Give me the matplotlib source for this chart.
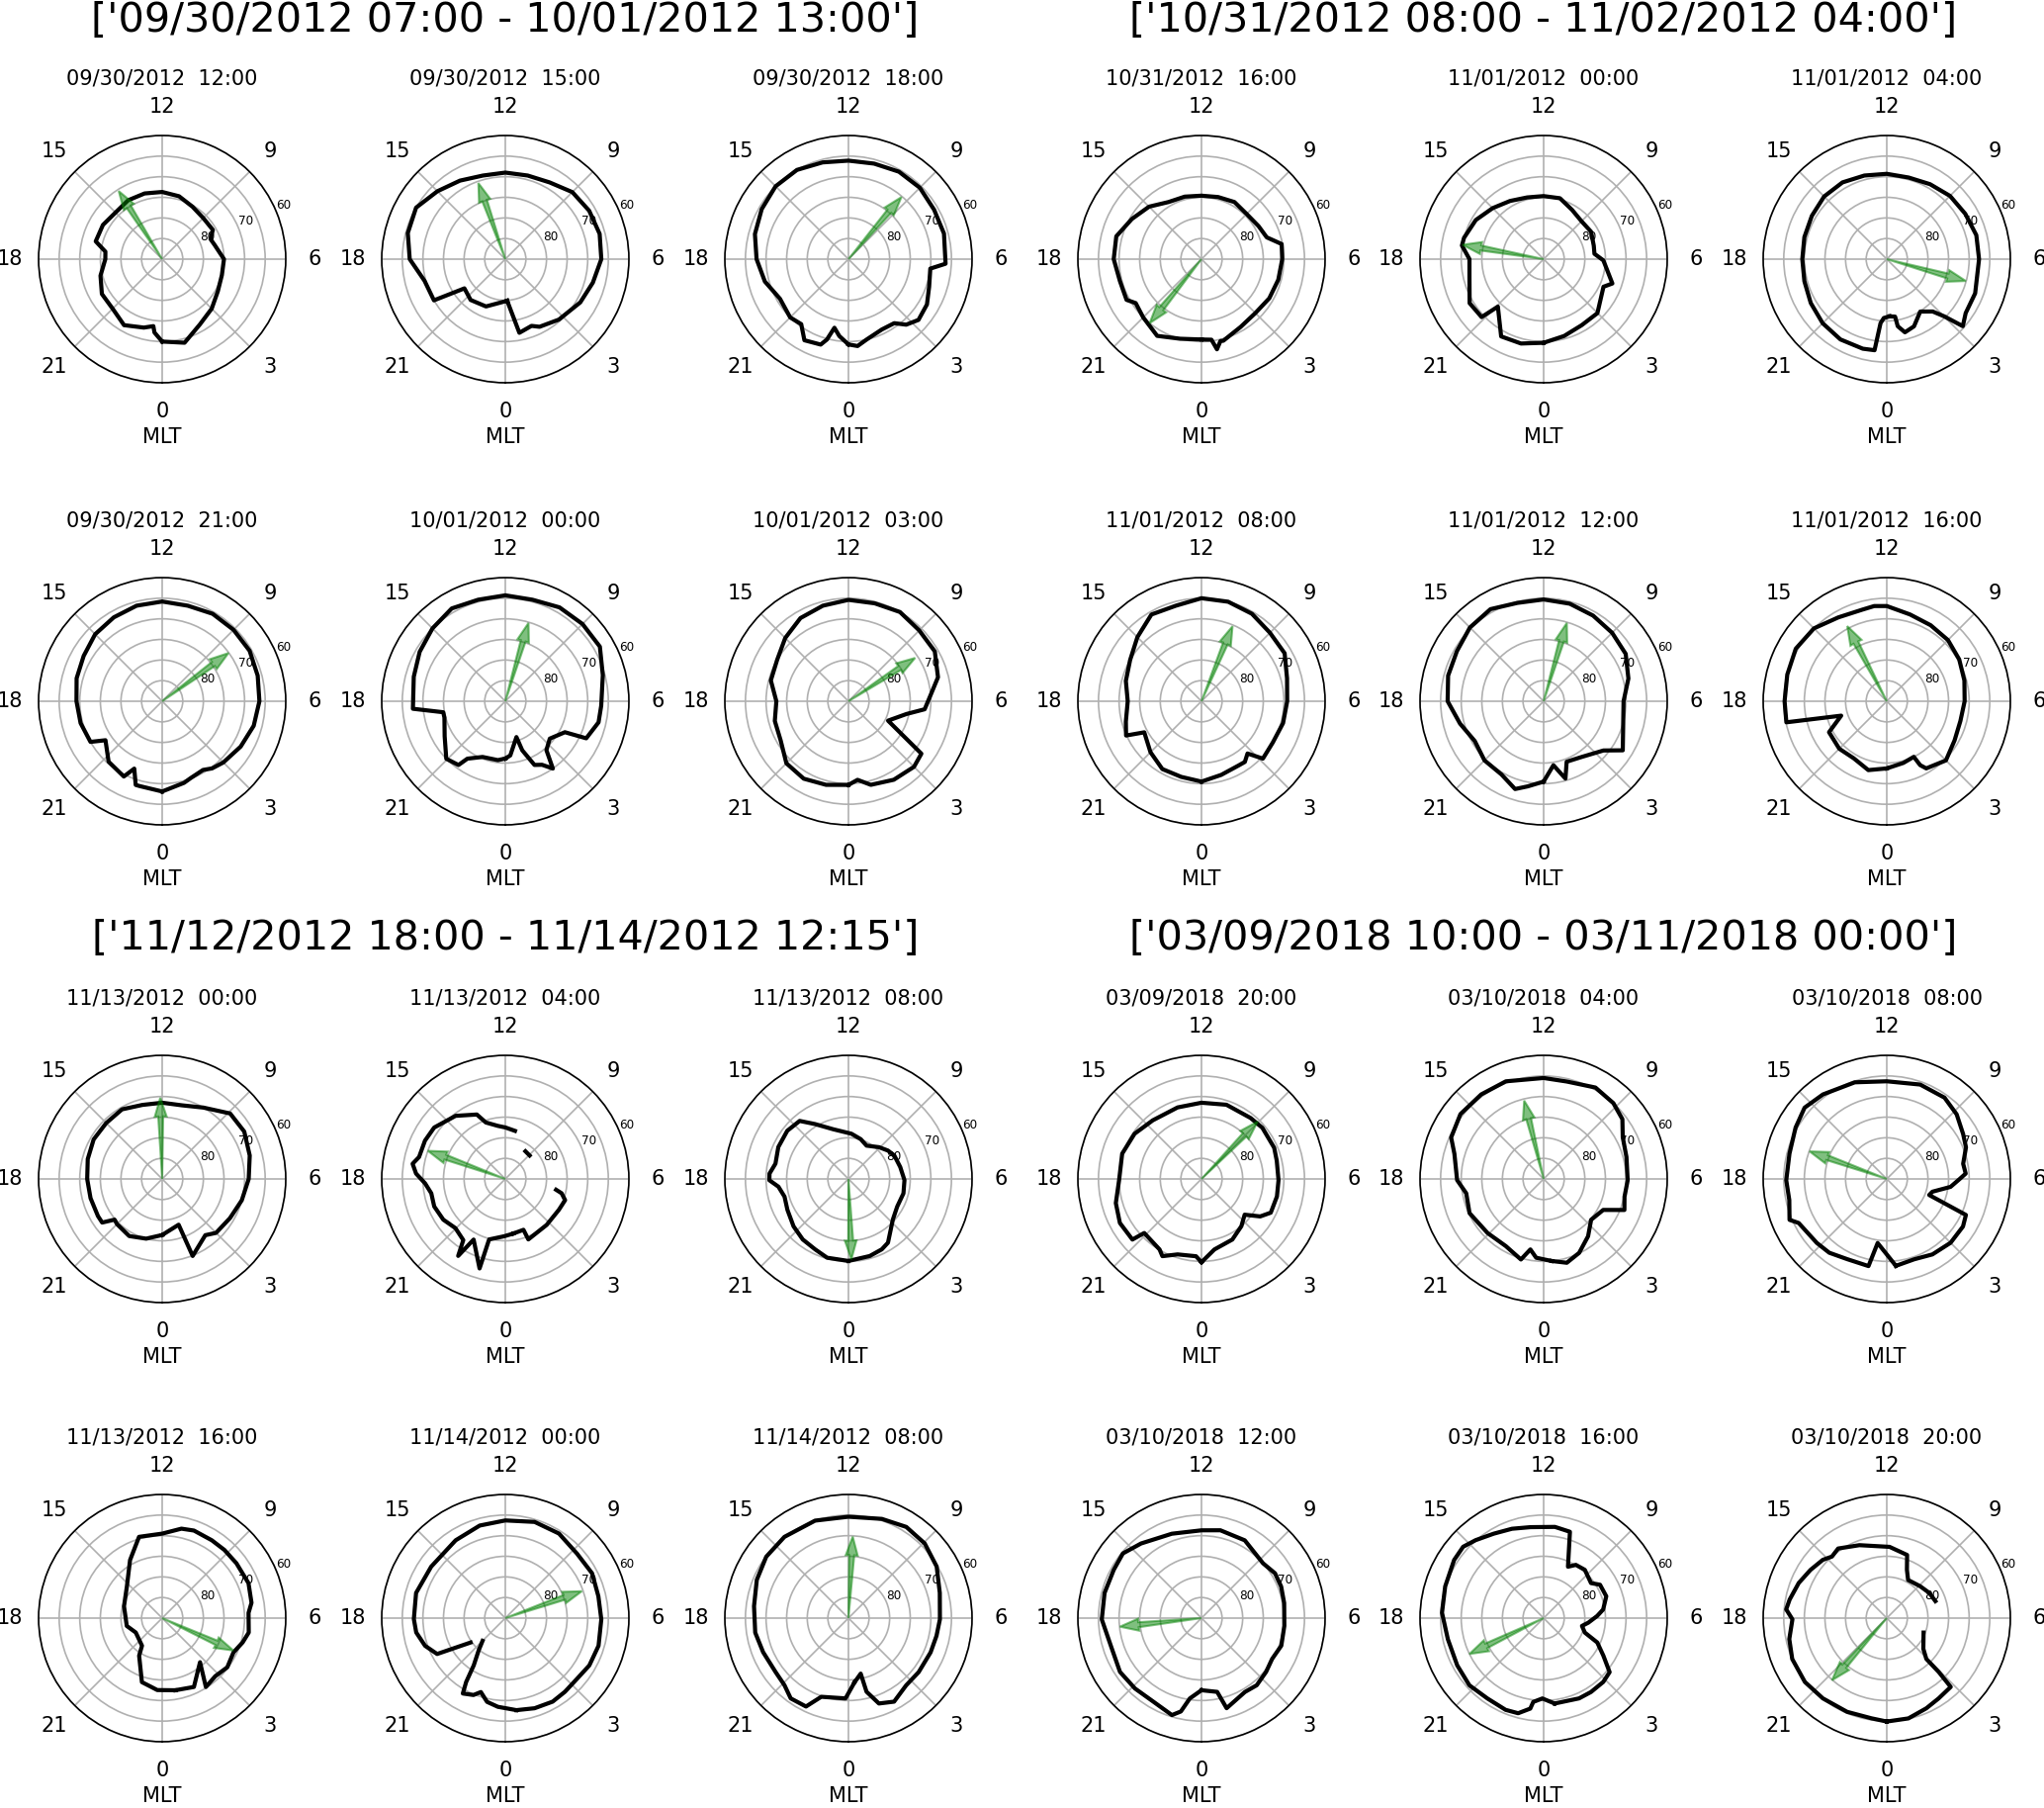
import numpy as np
import matplotlib
matplotlib.use("Agg")
import matplotlib.pyplot as plt

# ---------------- data (MLT hours, colatitude = 90 - latitude, degrees) ----------------
GROUP_TITLES = ["['09/30/2012 07:00 - 10/01/2012 13:00']",
                "['10/31/2012 08:00 - 11/02/2012 04:00']",
                "['11/12/2012 18:00 - 11/14/2012 12:15']",
                "['03/09/2018 10:00 - 03/11/2018 00:00']"]

TITLES = ["09/30/2012  12:00", "09/30/2012  15:00", "09/30/2012  18:00",
          "10/31/2012  16:00", "11/01/2012  00:00", "11/01/2012  04:00",
          "09/30/2012  21:00", "10/01/2012  00:00", "10/01/2012  03:00",
          "11/01/2012  08:00", "11/01/2012  12:00", "11/01/2012  16:00",
          "11/13/2012  00:00", "11/13/2012  04:00", "11/13/2012  08:00",
          "03/09/2018  20:00", "03/10/2018  04:00", "03/10/2018  08:00",
          "11/13/2012  16:00", "11/14/2012  00:00", "11/14/2012  08:00",
          "03/10/2018  12:00", "03/10/2018  16:00", "03/10/2018  20:00"]

MLT_TICKS = [0, 3, 6, 9, 12, 15, 18, 21]
R_TICKS = [5, 10, 15, 20, 25, 30]
R_TICK_LABELS = ["", "80", "", "70", "", "60"]

ARROW_MLT = [14.17, 13.3, 9.3, 21.4, 17.33, 4.97, 8.4, 10.9, 8.2, 10.5, 10.9, 13.85,
             12.09, 16.67, 0.14, 9.04, 12.93, 16.69, 4.37, 7.29, 11.8, 18.4, 19.72, 21.24]
ARROW_LEN = [19.6, 19.6, 19.8, 20.0, 20.0, 19.9, 19.9, 19.8, 19.3, 19.7, 19.8, 20.6,
             19.7, 20.0, 19.5, 19.5, 19.6, 19.9, 19.0, 19.7, 19.8, 19.9, 20.0, 20.1]

P01_MLT = [0, 1, 2, 3, 4, 5, 6, 7, 7.5, 8, 9, 10, 11, 12, 13, 14, 15, 16, 17, 17.5, 18, 19, 20, 21, 22, 23, 23.5, 23.6]
P01_COLAT = [20.0, 21.0, 18.3, 17.0, 15.6, 15.0, 15.0, 13.2, 12.7, 14.2, 14.1, 14.7, 15.8, 16.3, 16.5, 16.5, 16.0, 16.6, 16.7, 13.9, 13.8, 15.5, 16.9, 17.0, 18.5, 17.2, 16.4, 17.9]

P02_MLT = [0.17, 0.72, 1.43, 1.79, 2.77, 4, 5, 6, 7, 8, 9, 10, 11, 12, 13, 14, 15, 16, 17, 18, 19, 20, 20.37, 21.31, 22.52, 23.9]
P02_COLAT = [10.1, 18.2, 17.4, 18.4, 19.6, 21.0, 22.0, 23.3, 23.7, 23.5, 23.0, 21.5, 21.0, 21.0, 21.0, 22.0, 23.3, 25.0, 24.5, 23.2, 20.3, 20.0, 12.2, 13.0, 12.4, 10.3]

P03_MLT = [0, 0.4, 0.85, 1.69, 2.37, 2.76, 3.27, 4, 4.74, 5.56, 5.82, 7, 8, 9, 10, 11, 12, 13, 14, 15, 16, 17, 18, 19, 20, 21, 21.6, 22.1, 22.8, 23.0, 23.23, 23.55]
P03_COLAT = [20.7, 21.2, 20.0, 18.9, 19.1, 21.2, 22.5, 22.0, 20.7, 20.0, 23.6, 24.0, 24.0, 24.5, 24.5, 24.0, 23.9, 24.3, 25.0, 25.0, 24.3, 23.5, 22.3, 21.0, 19.2, 20.0, 19.5, 22.4, 21.8, 20.2, 17.0, 18.8]

P04_MLT = [0, 0.47, 0.65, 0.87, 1, 2, 3, 4, 5, 6, 6.71, 7.23, 8, 9, 10, 11, 12, 13, 14, 15, 16, 17, 18, 19, 19.9, 20.25, 21, 22, 23]
P04_COLAT = [19.5, 19.7, 22.2, 20.4, 20.5, 19.0, 18.5, 19.0, 19.3, 19.6, 19.8, 16.7, 16.0, 15.5, 16.0, 15.6, 15.4, 15.7, 16.0, 18.0, 19.5, 21.4, 21.3, 20.5, 20.7, 19.2, 20.0, 21.5, 20.0]

P05_MLT = [0, 1, 2, 2.99, 4.35, 4.7, 5.92, 6.4, 7, 8, 9, 10, 11, 12, 13, 14, 15, 16, 17, 17.37, 18, 18.89, 20.05, 20.87, 21.07, 22.08, 23]
P05_COLAT = [20.3, 19.3, 18.5, 18.5, 16.0, 17.7, 14.5, 12.4, 12.6, 13.3, 13.0, 13.8, 15.3, 15.3, 15.5, 16.3, 17.5, 19.0, 20.0, 20.1, 18.0, 18.5, 20.9, 20.6, 16.0, 21.4, 21.2]

P06_MLT = [0.19, 0.55, 0.62, 0.93, 1.47, 2.17, 2.75, 3.01, 3.24, 3.71, 4.59, 5, 6, 7, 8, 9, 10, 11, 12, 13, 14, 15, 16, 17, 18, 19, 20, 21, 22, 23, 23.49, 23.63, 23.81]
P06_COLAT = [13.9, 14.1, 16.5, 18.3, 17.6, 15.1, 16.9, 19.7, 24.6, 23.2, 23.0, 22.5, 22.4, 22.5, 22.0, 21.7, 21.0, 20.5, 20.7, 21.0, 21.5, 21.5, 21.0, 20.7, 20.5, 20.7, 21.3, 22.0, 22.5, 22.5, 22.3, 15.6, 14.3]

P07_MLT = [0, 1, 1.35, 2.05, 2.44, 3, 4, 5, 6, 7, 8, 9, 10, 11, 12, 13, 14, 15, 16, 17, 18, 19, 19.97, 20.3, 21.23, 22.2, 22.5, 22.83, 23]
P07_COLAT = [21.9, 20.5, 19.9, 19.4, 20.3, 21.0, 22.0, 23.0, 23.6, 24.0, 24.5, 24.5, 24.5, 24.0, 24.2, 24.0, 23.5, 23.0, 22.0, 21.5, 20.8, 20.5, 20.0, 16.7, 19.6, 20.5, 17.7, 21.3, 21.3]

P08_MLT = [0, 0.35, 1.15, 1.27, 1.64, 2.0, 2.35, 2.67, 3.33, 4.17, 4.36, 5.15, 5.82, 7, 8, 9, 10, 11, 12, 13, 14, 15, 16, 17, 18.31, 18.67, 19, 20, 20.95, 21.58, 21.77, 22.52, 23.52]
P08_COLAT = [13.9, 13.2, 9.1, 12.6, 17.0, 17.8, 20.0, 15.5, 14.1, 16.3, 21.6, 23.2, 23.3, 24.5, 26.5, 26.5, 26.3, 25.5, 25.7, 25.5, 26.0, 25.0, 24.0, 23.0, 22.5, 15.3, 15.3, 17.0, 20.0, 19.2, 16.7, 14.6, 14.4]

P09_MLT = [0, 0.44, 1, 2, 3, 3.62, 4.26, 5.17, 5.6, 6.25, 7, 8, 9, 10, 11, 12, 13, 14, 15, 16, 17, 18, 19, 20, 21, 22, 23]
P09_COLAT = [20.3, 19.2, 21.0, 22.0, 22.5, 21.8, 10.7, 14.4, 18.6, 19.9, 22.5, 24.2, 24.3, 25.0, 24.6, 24.6, 24.0, 23.3, 21.7, 20.0, 19.5, 17.5, 18.5, 19.0, 21.3, 21.7, 21.0]

P10_MLT = [0, 1, 2, 2.37, 2.76, 3.13, 4, 5, 6, 7, 8, 9, 10, 11, 12, 13, 14, 15, 16, 17, 18, 19, 19.63, 19.9, 21, 22, 23]
P10_COLAT = [19.5, 18.5, 18.0, 18.1, 16.9, 20.4, 20.0, 20.5, 20.8, 21.5, 23.3, 23.5, 24.5, 25.0, 25.0, 24.0, 24.3, 22.0, 20.0, 19.0, 17.9, 19.0, 20.1, 15.8, 17.5, 19.0, 19.0]

P11_MLT = [0, 0.58, 1.05, 1.39, 2.31, 3.37, 3.88, 5, 6, 7, 8, 9, 10, 11, 12, 13, 14, 15, 16, 17, 18, 19, 20, 21, 22, 22.8, 23.3]
P11_COLAT = [19.5, 15.7, 19.5, 15.7, 16.4, 18.8, 22.6, 20.0, 19.4, 21.3, 23.0, 23.5, 24.0, 24.5, 24.7, 24.7, 25.8, 25.3, 24.3, 24.0, 23.3, 21.0, 19.3, 20.3, 20.5, 22.4, 21.0]

P12_MLT = [0, 1, 1.73, 1.84, 2.03, 3, 4, 5, 6, 7, 8, 9, 10, 11, 12, 12.5, 13, 14, 15, 16, 17, 18, 18.79, 19.17, 19.88, 21, 22, 23]
P12_COLAT = [16.3, 15.5, 15.0, 17.5, 18.9, 20.3, 19.0, 18.5, 18.9, 19.5, 20.3, 21.0, 21.3, 21.8, 23.1, 23.3, 23.0, 23.5, 25.0, 25.5, 25.0, 24.8, 24.9, 11.6, 15.9, 16.3, 16.0, 17.3]

P13_MLT = [0, 1.32, 1.44, 2.5, 3, 4, 5, 6, 7, 8, 8.93, 10, 11, 12, 13, 14, 15, 16, 17, 18, 19, 20, 20.4, 20.7, 21, 22, 23]
P13_COLAT = [13.6, 11.8, 20.1, 17.2, 18.5, 19.0, 20.0, 21.0, 22.0, 23.0, 22.9, 20.0, 18.5, 18.5, 18.6, 19.5, 19.2, 19.2, 18.7, 18.2, 18.0, 18.0, 18.0, 15.2, 15.5, 16.0, 15.0]

P14_MLT = [0.54, 1.31, 1.39, 2.8, 4.0, 4.7, 5.05, 5.2, 7.0, 8.93, 9.6, 10.5, 11.24, 12.0, 12.53, 13.27, 13.59, 14.55, 15.61, 16.3, 17.05, 17.38, 17.77, 18.21, 18.73, 19.41, 20.22, 20.97, 21.7, 21.9, 22.16, 22.93, 23.0, 23.93]
P14_COLAT = [13.4, 13.1, 15.7, 15.0, 15.0, 15.4, 14.1, 12.6, np.nan, 8.2, 8.3, np.nan, 11.9, 12.5, 13.0, 14.5, 17.1, 19.5, 21.3, 21.6, 21.6, 22.8, 21.7, 19.5, 18.3, 18.5, 18.0, 17.0, 18.0, 21.9, 16.6, 22.6, 15.2, 13.9]

P15_MLT = [0, 1.03, 1.69, 2.12, 3.17, 4.03, 5.02, 5.92, 6.86, 7.81, 8.38, 9.07, 10.1, 10.85, 11.75, 13.13, 14.09, 14.67, 15.45, 16.37, 17.21, 17.74, 18.06, 18.42, 19.03, 19.79, 20.72, 21.53, 22.31, 22.99]
P15_COLAT = [19.9, 19.4, 18.9, 18.2, 14.6, 13.6, 13.8, 13.6, 12.9, 12.5, 11.8, 10.7, 9.2, 10.1, 11.0, 12.6, 15.6, 18.4, 18.9, 18.7, 18.1, 19.2, 19.2, 17.1, 16.1, 16.6, 17.6, 18.4, 18.9, 19.8]

P16_MLT = [0, 0.69, 1.8, 2.68, 3.36, 3.83, 4.27, 5.13, 5.94, 6.91, 7.55, 8.67, 9.41, 10.76, 12, 13.23, 14.65, 15.73, 16.82, 18.06, 19.05, 19.89, 20.75, 20.89, 21.53, 21.95, 22.21, 22.83, 23.73]
P16_COLAT = [20.2, 17.4, 16.5, 15.0, 13.6, 16.9, 18.7, 18.8, 18.7, 18.8, 19.2, 19.3, 19.0, 19.0, 18.5, 18.3, 18.5, 19.6, 20.2, 20.0, 21.6, 22.5, 22.3, 19.1, 19.4, 19.9, 21.0, 19.2, 18.8]

P17_MLT = [0.37, 1.03, 1.71, 2.52, 3.29, 4.17, 4.6, 5.17, 5.94, 6.99, 7.85, 8.48, 9.16, 10.03, 11.11, 12, 13.41, 14.43, 15.47, 16.39, 16.95, 18.05, 18.7, 19.65, 20.93, 22.04, 22.95, 23.29, 23.64]
P17_COLAT = [20.0, 21.1, 19.9, 17.6, 15.2, 16.3, 21.0, 20.1, 20.4, 20.8, 21.7, 24.0, 25.0, 25.5, 24.3, 24.5, 25.4, 25.5, 25.6, 24.6, 22.5, 21.0, 19.1, 19.8, 18.9, 18.7, 20.3, 17.4, 19.2]

P18_MLT = [0.4, 1.26, 2.08, 3.0, 3.87, 4.37, 4.62, 4.96, 5.53, 6.0, 6.26, 6.75, 7.45, 8.03, 8.85, 9.64, 10.7, 12, 13.22, 14.47, 15.27, 16.04, 17.03, 18.05, 18.81, 19.52, 19.77, 20.83, 21.47, 22.25, 23.21, 23.46]
P18_COLAT = [21.2, 20.6, 21.4, 21.9, 21.8, 21.1, 11.0, 11.5, 15.6, 17.7, 19.2, 18.9, 20.7, 21.5, 23.1, 24.2, 24.3, 23.7, 24.7, 25.7, 26.4, 25.4, 24.4, 24.4, 24.2, 25.6, 23.9, 23.0, 22.7, 21.7, 21.6, 15.7]

P19_MLT = [0.69, 1.65, 2.71, 2.16, 2.83, 3.53, 4.29, 4.88, 5.37, 6.23, 6.65, 7.47, 8.43, 9.17, 9.83, 10.67, 11.19, 12, 13.06, 13.93, 15.21, 16.85, 18.83, 19.91, 21.59, 21.9, 22.83, 23.39, 23.74]
P19_COLAT = [17.8, 18.4, 14.1, 19.8, 19.1, 19.8, 19.2, 20.4, 21.3, 21.0, 22.0, 22.6, 22.4, 22.4, 22.4, 22.6, 22.2, 20.5, 20.5, 16.1, 11.5, 9.7, 8.8, 7.3, 8.3, 10.7, 16.3, 16.9, 17.5]

P20_MLT = [0.46, 1.2, 1.97, 2.6, 3.32, 4.04, 4.9, 5.95, 6.88, 7.82, 8.8, 9.84, 10.87, 12, 13.03, 14.17, 15.68, 16.95, 18.04, 18.61, 19.27, 19.85, 20.34, 20.7, 21.0, 21.37, 21.75, 21.9, 22.04, 22.5, 22.78, 23.18, 23.68]
P20_COLAT = [22.5, 23.0, 23.3, 23.0, 22.8, 23.4, 23.6, 23.3, 23.2, 23.7, 23.4, 24.3, 24.4, 23.7, 23.3, 22.4, 21.9, 22.5, 22.2, 21.9, 20.6, 18.7, 10.3, np.nan, 7.8, 10.2, 13.8, 18.2, 21.0, 20.2, 18.9, 20.8, 21.6]

P21_MLT = [0.37, 0.83, 0.92, 1.31, 1.91, 2.71, 3.49, 4.49, 5.24, 5.95, 7.03, 8.02, 8.96, 9.84, 10.76, 12, 13.26, 14.55, 15.55, 16.49, 17.52, 18.59, 19.45, 20.43, 21.09, 21.62, 22.29, 22.73, 23.86]
P21_COLAT = [15.6, 13.8, 18.4, 22.0, 23.1, 21.5, 21.5, 21.6, 21.8, 22.2, 23.0, 24.8, 25.9, 26.2, 25.4, 24.6, 25.0, 25.1, 24.9, 24.1, 23.1, 22.9, 22.3, 22.0, 22.5, 24.0, 23.8, 20.2, 19.5]

P22_MLT = [0, 0.8, 1.04, 2.03, 2.63, 3.35, 4.0, 4.73, 5.64, 6.69, 7.44, 8.09, 8.78, 10.06, 11.19, 12, 13.29, 14.6, 15.37, 16.08, 17.03, 18.05, 19.13, 20.23, 21.11, 22.0, 22.87, 23.17, 23.45]
P22_COLAT = [17.5, 18.3, 22.7, 20.8, 21.1, 20.4, 19.8, 20.5, 20.2, 20.4, 20.8, 20.9, 20.0, 21.6, 21.8, 21.3, 21.7, 23.3, 24.7, 24.3, 24.3, 24.2, 23.0, 23.7, 23.5, 23.4, 24.6, 23.2, 19.7]

P23_MLT = [0.49, 1.59, 2.18, 2.87, 3.38, 3.86, 4.37, 4.71, 5.23, 5.61, 6.15, 6.55, 7.28, 8.04, 8.43, 9.3, 9.92, 10.31, 10.87, 11.53, 12.55, 13.3, 14.04, 14.74, 15.23, 15.8, 16.81, 17.8, 18.83, 19.91, 20.81, 21.67, 22.5, 23.0, 23.44, 23.53, 23.94]
P23_COLAT = [20.9, 21.3, 21.3, 21.2, 20.7, 17.1, 14.3, 10.6, 9.5, 10.9, 13.0, 14.6, 16.1, 15.9, 14.3, 15.4, 15.1, 13.8, 21.9, 22.3, 22.3, 23.0, 23.8, 25.1, 26.1, 25.9, 25.1, 24.7, 23.8, 23.9, 24.3, 23.8, 24.1, 23.9, 22.2, 20.5, 19.5]

P24_MLT = [0, 0.81, 1.58, 2.19, 2.86, 2.93, 2.94, 3.33, 4.57, 6.0, 7.28, 8.04, 8.91, 10.05, 10.49, 10.81, 11.85, 13.37, 14.33, 14.78, 15.18, 15.85, 16.55, 17.28, 17.67, 18.05, 18.81, 19.56, 20.53, 21.43, 22.47, 23.42]
P24_COLAT = [25.1, 24.9, 23.9, 23.2, 22.8, 18.2, 13.8, 11.6, 9.6, np.nan, 12.5, 12.0, 11.2, 10.6, 12.7, 16.1, 17.3, 18.9, 20.6, 20.0, 21.0, 21.9, 23.0, 24.0, 24.5, 22.9, 24.2, 25.0, 25.2, 24.9, 24.7, 24.6]

PANELS = [(P01_MLT, P01_COLAT), (P02_MLT, P02_COLAT), (P03_MLT, P03_COLAT),
          (P04_MLT, P04_COLAT), (P05_MLT, P05_COLAT), (P06_MLT, P06_COLAT),
          (P07_MLT, P07_COLAT), (P08_MLT, P08_COLAT), (P09_MLT, P09_COLAT),
          (P10_MLT, P10_COLAT), (P11_MLT, P11_COLAT), (P12_MLT, P12_COLAT),
          (P13_MLT, P13_COLAT), (P14_MLT, P14_COLAT), (P15_MLT, P15_COLAT),
          (P16_MLT, P16_COLAT), (P17_MLT, P17_COLAT), (P18_MLT, P18_COLAT),
          (P19_MLT, P19_COLAT), (P20_MLT, P20_COLAT), (P21_MLT, P21_COLAT),
          (P22_MLT, P22_COLAT), (P23_MLT, P23_COLAT), (P24_MLT, P24_COLAT)]

# ---------------- layout ----------------
W, H, DPI = 2067, 1828, 150
COL_X = [164, 511, 858, 1215, 1561, 1908]
ROW_Y = [262, 709, 1192, 1636]
RAD = 125
GROUP_POS = [(511, 21), (1561, 21), (511, 949), (1561, 949)]

fig = plt.figure(figsize=(W / DPI, H / DPI), dpi=DPI)
H2R = np.pi / 12.0

for i, (mlt, colat) in enumerate(PANELS):
    row, col = divmod(i, 6)
    cx, cy = COL_X[col], ROW_Y[row]
    ax = fig.add_axes([(cx - RAD) / W, 1 - (cy + RAD) / H, 2 * RAD / W, 2 * RAD / H],
                      projection="polar")
    ax.set_theta_zero_location("S")
    ax.set_theta_direction(1)

    m = np.asarray(mlt, dtype=float)
    c = np.asarray(colat, dtype=float)
    th = np.append(m, m[0] + 24.0) * H2R
    rr = np.append(c, c[0])
    ax.plot(th, rr, color="black", lw=2.0, zorder=4)

    ax.arrow(ARROW_MLT[i] * H2R, 0.0, 0.0, ARROW_LEN[i], width=0.08, head_width=0.19,
             head_length=4.5, length_includes_head=True, facecolor="green",
             edgecolor="green", alpha=0.5, lw=1.0, zorder=5)

    ax.set_ylim(0, 30)
    ax.set_yticks(R_TICKS)
    ax.set_yticklabels(R_TICK_LABELS, fontsize="xx-small")
    ax.set_rlabel_position(112.5)
    ax.set_xticks(np.array(MLT_TICKS) * H2R)
    ax.set_xticklabels([str(h) for h in MLT_TICKS], fontsize=10)
    ax.grid(True, color="#b0b0b0", lw=0.8)
    ax.set_title(TITLES[i], fontsize=10)
    ax.set_xlabel("MLT", fontsize=10, labelpad=3)

for (gx, gy), txt in zip(GROUP_POS, GROUP_TITLES):
    fig.text(gx / W, 1 - gy / H, txt, ha="center", va="center", fontsize=19.8)

fig.savefig("out.png", dpi=DPI)
